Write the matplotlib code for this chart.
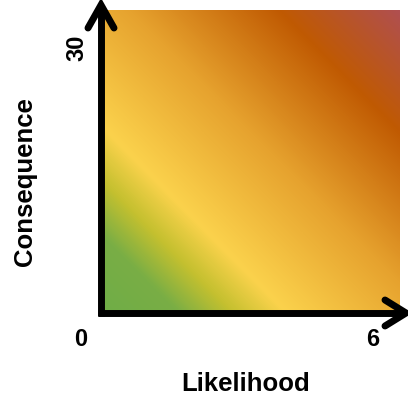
import numpy as np
import matplotlib
matplotlib.use("Agg")
from matplotlib import pyplot as plt
from matplotlib.colors import LinearSegmentedColormap

# axis ranges (likelihood x, consequence y)
likelihood_range = [0, 6]
consequence_range = [0, 30]
x_label = "Likelihood"
y_label = "Consequence"

# gradient stops along the diagonal (0 = bottom-left, 1 = top-right)
stop_pos = [0.0, 0.13, 0.22, 0.31, 0.55, 0.8, 1.0]
stop_colors = ["#6fad47", "#79ae45", "#c4c02f", "#fbd24c", "#e6a22e", "#c05a02", "#b04f50"]

plt.rcParams['font.family'] = ['Liberation Sans', 'DejaVu Sans']

W, H = 408, 397
fig = plt.figure(figsize=(W / 100, H / 100), dpi=100)

# plot region in pixels: left 100, right 400, top 10, bottom 313
left, right, top, bottom = 100, 400, 10, 313
ax = fig.add_axes([left / W, 1 - bottom / H, (right - left) / W, (bottom - top) / H])

cmap = LinearSegmentedColormap.from_list("risk", list(zip(stop_pos, stop_colors)))
xs = np.linspace(likelihood_range[0], likelihood_range[1], 400)
ys = np.linspace(consequence_range[0], consequence_range[1], 400)
X, Y = np.meshgrid(xs, ys)
T = ((X - xs[0]) / (xs[-1] - xs[0]) + (Y - ys[0]) / (ys[-1] - ys[0])) / 2
ax.imshow(T, cmap=cmap, vmin=0, vmax=1, origin='lower', aspect='auto',
          extent=[likelihood_range[0], likelihood_range[1], consequence_range[0], consequence_range[1]],
          interpolation='bilinear')
ax.set_xlim(likelihood_range)
ax.set_ylim(consequence_range)
ax.set_axis_off()

# arrows drawn in pixel space (figure-wide overlay)
ov = fig.add_axes([0, 0, 1, 1])
ov.set_xlim(0, W)
ov.set_ylim(H, 0)
ov.set_axis_off()
ov.patch.set_alpha(0)
lw = 5
ov.plot([left + 1, left + 1], [bottom + 3, 6], color='black', lw=lw, solid_capstyle='butt')
ov.plot([left - 2, 404], [bottom, bottom], color='black', lw=lw, solid_capstyle='butt')
ov.plot([left + 1 - 13, left + 1, left + 1 + 13], [28, 5, 28], color='black', lw=lw,
        solid_capstyle='round', solid_joinstyle='miter')
ov.plot([385, 406, 385], [bottom - 13, bottom, bottom + 13], color='black', lw=lw,
        solid_capstyle='round', solid_joinstyle='miter')

# labels
fig.text(81 / W, 1 - 340 / H, str(likelihood_range[0]), ha='center', va='center',
         fontsize=17, fontweight='bold')
fig.text(373 / W, 1 - 340 / H, str(likelihood_range[1]), ha='center', va='center',
         fontsize=17, fontweight='bold')
fig.text(77 / W, 1 - 48 / H, str(consequence_range[1]), ha='center', va='center',
         fontsize=17, fontweight='bold', rotation=90)
fig.text(246 / W, 1 - 384 / H, x_label, ha='center', va='center',
         fontsize=18.5, fontweight='bold')
fig.text(25 / W, 1 - 182 / H, y_label, ha='center', va='center',
         fontsize=18.5, fontweight='bold', rotation=90)

fig.savefig("out.png", dpi=100)
